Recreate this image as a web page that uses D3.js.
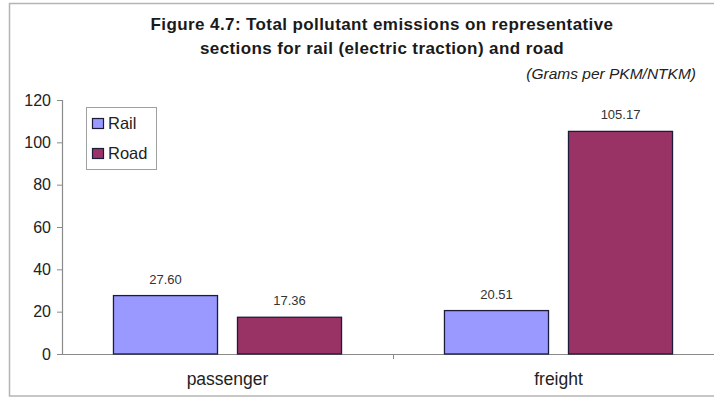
<!DOCTYPE html>
<html>
<head>
<meta charset="utf-8">
<script src="https://cdn.jsdelivr.net/npm/d3@7"></script>
<style>
  html, body { margin: 0; padding: 0; background: #fff; }
  svg { display: block; font-family: "Liberation Sans", Arial, sans-serif; }
</style>
</head>
<body>
<svg id="chart" width="714" height="398"></svg>
<script>
// Emissions in grams per PKM/NTKM
const categories = ["passenger", "freight"];
const seriesNames = ["Rail", "Road"];
const railValues = [27.60, 20.51];
const roadValues = [17.36, 105.17];
const yTicks = [0, 20, 40, 60, 80, 100, 120];
const titleLines = [
  "Figure 4.7: Total pollutant emissions on representative",
  "sections for rail (electric traction) and road"
];
const unitLabel = "(Grams per PKM/NTKM)";

const colors = { Rail: "#9999ff", Road: "#993366" };

const svg = d3.select("#chart");

// outer frame of the chart area
svg.append("rect")
  .attr("x", 9.5).attr("y", 3.5)
  .attr("width", 720).attr("height", 392.5)
  .attr("fill", "#fff")
  .attr("stroke", "#b4b4b4")
  .attr("stroke-width", 1.5);

const plot = { left: 62, right: 724, top: 100, bottom: 354 };

const x = d3.scaleBand()
  .domain(categories)
  .range([plot.left, plot.right]);

const xInner = d3.scaleBand()
  .domain(seriesNames)
  .range([0, x.bandwidth()])
  .paddingInner(0.161)
  .paddingOuter(0.415);

const y = d3.scaleLinear()
  .domain([0, 120])
  .range([plot.bottom, plot.top]);

const rows = categories.map((c, i) => ({
  category: c,
  values: [
    { series: "Rail", value: railValues[i] },
    { series: "Road", value: roadValues[i] }
  ]
}));

// title
svg.append("g")
  .selectAll("text")
  .data(titleLines)
  .join("text")
  .attr("x", 382)
  .attr("y", (d, i) => 30 + i * 24)
  .attr("text-anchor", "middle")
  .attr("font-size", 17)
  .attr("letter-spacing", 0.4)
  .attr("font-weight", "bold")
  .attr("fill", "#1a1a1a")
  .text(d => d);

svg.append("text")
  .attr("x", 696)
  .attr("y", 79)
  .attr("text-anchor", "end")
  .attr("font-size", 15.5)
  .attr("font-style", "italic")
  .attr("fill", "#222")
  .text(unitLabel);

// y axis
const yAxis = svg.append("g")
  .attr("transform", `translate(${plot.left},0)`)
  .call(d3.axisLeft(y).tickValues(yTicks).tickSize(5).tickPadding(6).tickFormat(d3.format("d")));
yAxis.select(".domain").attr("stroke", "#8a8a8a").attr("stroke-width", 1.2);
yAxis.selectAll(".tick line").attr("stroke", "#8a8a8a");
yAxis.selectAll(".tick text")
  .attr("font-size", 16)
  .attr("font-family", "'Liberation Sans', Arial, sans-serif")
  .attr("fill", "#222");

// x axis
const xAxis = svg.append("g")
  .attr("transform", `translate(0,${plot.bottom})`)
  .call(d3.axisBottom(x).tickSize(0).tickPadding(19));
xAxis.select(".domain").attr("stroke", "#8a8a8a").attr("stroke-width", 1.2);
xAxis.selectAll(".tick text")
  .attr("font-size", 17.5)
  .attr("font-family", "'Liberation Sans', Arial, sans-serif")
  .attr("fill", "#222");
// category separator ticks
svg.append("g")
  .selectAll("line")
  .data(categories.slice(1))
  .join("line")
  .attr("x1", d => x(d) + 0.5).attr("x2", d => x(d) + 0.5)
  .attr("y1", plot.bottom).attr("y2", plot.bottom + 5)
  .attr("stroke", "#8a8a8a");

// bars
const groups = svg.append("g")
  .selectAll("g")
  .data(rows)
  .join("g")
  .attr("transform", d => `translate(${x(d.category)},0)`);

groups.selectAll("rect")
  .data(d => d.values)
  .join("rect")
  .attr("x", d => xInner(d.series))
  .attr("y", d => y(d.value))
  .attr("width", xInner.bandwidth())
  .attr("height", d => y(0) - y(d.value))
  .attr("fill", d => colors[d.series])
  .attr("stroke", "#1c1c3a")
  .attr("stroke-width", 1.3);

groups.selectAll("text")
  .data(d => d.values)
  .join("text")
  .attr("x", d => xInner(d.series) + xInner.bandwidth() / 2)
  .attr("y", d => y(d.value) - 12)
  .attr("text-anchor", "middle")
  .attr("font-size", 13)
  .attr("fill", "#333")
  .text(d => d.value.toFixed(2));

// legend
const legend = svg.append("g").attr("transform", "translate(86,107)");
legend.append("rect")
  .attr("x", 0.5).attr("y", 0.5)
  .attr("width", 70).attr("height", 62)
  .attr("fill", "#fff")
  .attr("stroke", "#a0a0a0");
const items = legend.selectAll("g.item")
  .data(seriesNames)
  .join("g")
  .attr("class", "item")
  .attr("transform", (d, i) => `translate(6,${16 + i * 30})`);
items.append("rect")
  .attr("x", 0.5).attr("y", -4.5)
  .attr("width", 11).attr("height", 10)
  .attr("fill", d => colors[d])
  .attr("stroke", "#1c1c3a")
  .attr("stroke-width", 1.2);
items.append("text")
  .attr("x", 16)
  .attr("y", 6)
  .attr("font-size", 16.5)
  .attr("fill", "#222")
  .text(d => d);
</script>
</body>
</html>
